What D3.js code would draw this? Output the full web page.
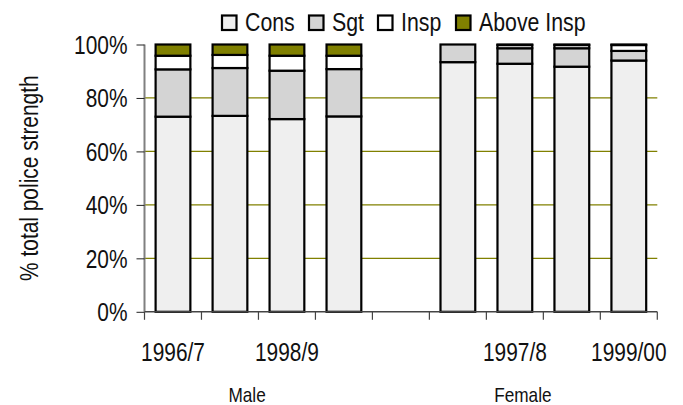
<!DOCTYPE html>
<html>
<head>
<meta charset="utf-8">
<script src="https://cdn.jsdelivr.net/npm/d3@7"></script>
<style>
  body { margin: 0; background: #fff; }
  svg { display: block; }
  text { font-family: "Liberation Sans", Arial, sans-serif; fill: #111; }
</style>
</head>
<body>
<svg id="chart"></svg>
<script>
// categories (slot 4 is the empty gap between Male and Female)
var years = ["1996/7", "1997/8", "1998/9", "1999/00", "", "1996/7", "1997/8", "1998/9", "1999/00"];
var tickLabels = ["1996/7", "", "1998/9", "", "", "", "1997/8", "", "1999/00"];
var ranks = ["Cons", "Sgt", "Insp", "Above Insp"];
var rankColors = ["#efefef", "#d4d4d4", "#ffffff", "#808000"];

// % of total strength, per slot
var cons      = [73.0, 73.3, 72.1, 73.1, 0, 93.4, 92.8, 91.7, 94.0];
var sgt       = [17.7, 17.9, 18.1, 17.7, 0,  6.6,  5.8,  6.9,  3.6];
var insp      = [ 5.1,  4.9,  5.6,  5.0, 0,  0.0,  1.2,  1.2,  2.2];
var aboveInsp = [ 4.2,  3.9,  4.2,  4.2, 0,  0.0,  0.2,  0.2,  0.2];

var groups = ["Male", "Female"];
var groupPos = [1.8, 6.64]; // position in slot units

var yTicks = [0, 20, 40, 60, 80, 100];

var width = 683, height = 405;
var margin = {top: 44.5, right: 25.7, bottom: 93.2, left: 144.5};
var w = width - margin.left - margin.right;
var h = height - margin.top - margin.bottom;
var squeeze = 0.82; // narrow font look

// turn x/y of a text into a translate + horizontal squeeze
function narrow(sel) {
  sel.each(function() {
    var t = d3.select(this);
    var tx = +t.attr("x") || 0, ty = +t.attr("y") || 0;
    var tr = t.attr("transform") || "";
    t.attr("x", 0).attr("y", 0)
     .attr("transform", tr + " translate(" + tx + "," + ty + ") scale(" + squeeze + ",1)");
  });
}

var svg = d3.select("#chart").attr("width", width).attr("height", height);
var g = svg.append("g").attr("transform", "translate(" + margin.left + "," + margin.top + ")");

var idx = d3.range(years.length);
var x = d3.scaleBand().domain(idx).range([0, w]).paddingInner(0.39).paddingOuter(0.195);
var slot = d3.scaleLinear().domain([0, years.length]).range([0, w]);
var y = d3.scaleLinear().domain([0, 100]).range([h, 0]);

// gridlines
g.selectAll(".grid")
  .data(yTicks.filter(function(d) { return d > 0 && d < 100; }))
  .enter().append("line")
  .attr("x1", 0).attr("x2", w)
  .attr("y1", function(d) { return y(d); })
  .attr("y2", function(d) { return y(d); })
  .attr("stroke", "#808000").attr("stroke-width", 1.2);

// stack
var rows = idx.map(function(i) {
  return {i: i, "Cons": cons[i], "Sgt": sgt[i], "Insp": insp[i], "Above Insp": aboveInsp[i]};
});
var stack = d3.stack().keys(ranks)(rows);

stack.forEach(function(layer, k) {
  g.append("g").selectAll("rect")
    .data(layer.filter(function(d) { return d.data.i !== 4 && d[1] - d[0] > 0; }))
    .enter().append("rect")
    .attr("x", function(d) { return x(d.data.i); })
    .attr("width", x.bandwidth())
    .attr("y", function(d) { return y(d[1]); })
    .attr("height", function(d) { return y(d[0]) - y(d[1]); })
    .attr("fill", rankColors[k])
    .attr("stroke", "#000").attr("stroke-width", 2.2);
});

// y axis
var yAxis = g.append("g")
  .call(d3.axisLeft(y).tickValues(yTicks).tickSize(8).tickPadding(9)
    .tickFormat(function(d) { return d + "%"; }));
yAxis.attr("font-family", null);
yAxis.select(".domain").attr("stroke", "#808080").attr("stroke-width", 2).attr("d", "M0," + h + "V0");
yAxis.selectAll(".tick line").attr("stroke", "#222");
yAxis.selectAll("text").style("font-size", "25.5px").attr("dy", "0.35em").call(narrow);

// x axis with ticks between categories
var xa = g.append("g").attr("transform", "translate(0," + h + ")");
xa.append("line").attr("x1", 0).attr("x2", w).attr("stroke", "#444").attr("stroke-width", 1.5);
xa.selectAll(".xtick")
  .data(d3.range(years.length + 1))
  .enter().append("line")
  .attr("x1", function(d) { return slot(d); })
  .attr("x2", function(d) { return slot(d); })
  .attr("y1", 0).attr("y2", 8)
  .attr("stroke", "#444").attr("stroke-width", 1.2);
xa.selectAll(".xlabel")
  .data(idx)
  .enter().append("text")
  .attr("x", function(d) { return slot(d + 0.5); })
  .attr("y", 49)
  .attr("text-anchor", "middle")
  .style("font-size", "25.5px")
  .text(function(d) { return tickLabels[d]; })
  .call(narrow);

// group labels
g.selectAll(".group")
  .data(groups)
  .enter().append("text")
  .attr("x", function(d, i) { return slot(groupPos[i]); })
  .attr("y", h + 90)
  .attr("text-anchor", "middle")
  .style("font-size", "21px")
  .text(function(d) { return d; })
  .call(narrow);

// y title
svg.append("text")
  .attr("transform", "translate(38," + (margin.top + h / 2) + ") rotate(-90) scale(" + squeeze + ",1)")
  .attr("text-anchor", "middle")
  .style("font-size", "25.5px")
  .text("% total police strength");

// legend
var legendX = [222, 309, 378, 456];
var legend = svg.append("g");
ranks.forEach(function(r, k) {
  legend.append("rect")
    .attr("x", legendX[k]).attr("y", 15.5)
    .attr("width", 14.5).attr("height", 14.5)
    .attr("fill", rankColors[k])
    .attr("stroke", "#000").attr("stroke-width", 2.2);
  legend.append("text")
    .attr("x", legendX[k] + 23).attr("y", 31)
    .style("font-size", "26px")
    .text(r)
    .call(narrow);
});
</script>
</body>
</html>
